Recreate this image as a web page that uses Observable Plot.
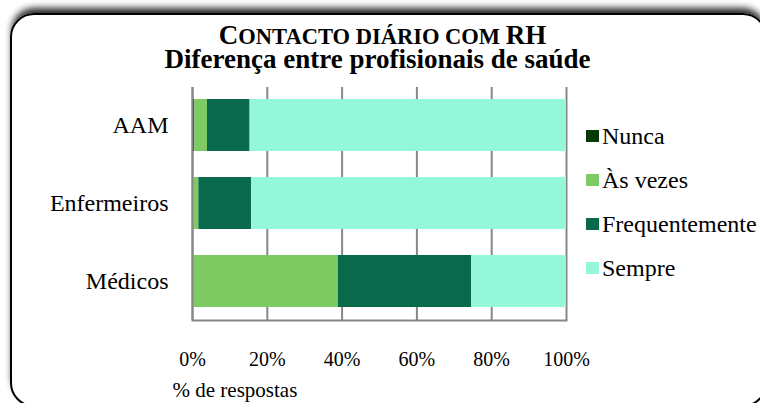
<!DOCTYPE html>
<html>
<head>
<meta charset="utf-8">
<script src="https://cdn.jsdelivr.net/npm/d3@7"></script>
<script src="https://cdn.jsdelivr.net/npm/@observablehq/plot@0.6"></script>
<style>
  html, body { margin: 0; padding: 0; background: #fff; overflow: hidden; }
  #wrap { position: relative; width: 760px; height: 403px; overflow: hidden; background: #fff; }
  #chart { position: absolute; left: 0; top: 0; }
  #border {
    position: absolute; left: 10px; top: 13px; width: 757px; height: 394px;
    border: 2px solid #000; border-radius: 24px; box-sizing: border-box;
    box-shadow: 0 -7px 7px -2px rgba(0,0,0,0.85);
    pointer-events: none;
  }
  #legend { position: absolute; left: 586px; top: 0; font-family: "Liberation Serif", serif; font-size: 24px; color: #000; }
  .item { position: absolute; left: 0; white-space: nowrap; display: flex; align-items: center; height: 30px; }
  .sw { width: 13px; height: 12px; margin-right: 3px; flex: none; }
</style>
</head>
<body>
<div id="wrap">
  <div id="border"></div>
  <div id="chart"></div>
  <div id="legend"></div>
</div>
<script>
const categories = ["AAM", "Enfermeiros", "Médicos"];
const seriesNames = ["Nunca", "Às vezes", "Frequentemente", "Sempre"];
const nunca = [0.6, 0, 0];
const asVezes = [3.4, 1.7, 39.0];
const frequentemente = [11.4, 14.1, 35.6];
const sempre = [84.6, 84.2, 25.4];
const seriesColors = ["#033a06", "#7dcb62", "#08694c", "#94f7da"];
const xTicks = [0, 20, 40, 60, 80, 100];
const titleLine1 = "Contacto diário com RH";
const titleLine2 = "Diferença entre profisionais de saúde";
const xLabel = "% de respostas";

const seriesValues = [nunca, asVezes, frequentemente, sempre];
const data = [];
categories.forEach((c, i) => {
  seriesNames.forEach((s, j) => {
    data.push({group: c, response: s, value: seriesValues[j][i]});
  });
});

const chart = Plot.plot({
  width: 760,
  height: 403,
  marginLeft: 192,
  marginRight: 194,
  marginTop: 87,
  marginBottom: 83,
  style: {fontFamily: "Liberation Serif, serif", color: "#000", background: "transparent", overflow: "visible"},
  x: {domain: [0, 100]},
  y: {domain: categories, paddingInner: 0.33, paddingOuter: 0.15},
  color: {domain: seriesNames, range: seriesColors},
  marks: [
    Plot.ruleX(xTicks, {stroke: "#878787", strokeWidth: 2}),
    Plot.barX(data, {x: "value", y: "group", fill: "response", order: seriesNames}),
    Plot.ruleX([0], {stroke: "#878787", strokeWidth: 2}),
    Plot.frame({anchor: "bottom", stroke: "#878787", strokeWidth: 2}),
    Plot.axisX({ticks: xTicks, tickFormat: d => d + "%", tickSize: 0, tickPadding: 31, fontSize: 20, label: null}),
    Plot.axisY({tickSize: 0, tickPadding: 24, fontSize: 24, label: null}),
    Plot.text([xLabel], {frameAnchor: "bottom-left", dx: -20, dy: 76, textAnchor: "start", fontSize: 21}),
    Plot.text([titleLine1], {frameAnchor: "top", dx: 3, dy: -44, lineAnchor: "bottom", fontSize: 27, fontWeight: "bold"}),
    Plot.text([titleLine2], {frameAnchor: "top", dx: -2, dy: -20, lineAnchor: "bottom", fontSize: 27, fontWeight: "bold"})
  ]
});
document.getElementById("chart").appendChild(chart);

// Small caps for the first title line: capitals at full size, other letters as smaller capitals
d3.select(chart).selectAll("text").filter(function() { return this.textContent === titleLine1; })
  .each(function() {
    const t = d3.select(this);
    t.text(null);
    let run = "", runBig = null;
    const flush = () => {
      if (run) t.append("tspan").attr("font-size", runBig ? 27 : 22.5).text(run);
      run = "";
    };
    for (const ch of titleLine1) {
      const isBig = ch === " " ? runBig : (ch !== ch.toLowerCase());
      if (runBig !== null && isBig !== runBig) flush();
      runBig = isBig;
      run += ch.toUpperCase();
    }
    flush();
  });

const color = chart.scale("color");
const legend = document.getElementById("legend");
const rowCenters = [136, 180, 224, 268];
color.domain.forEach((name, i) => {
  const item = document.createElement("div");
  item.className = "item";
  item.style.top = (rowCenters[i] - 15) + "px";
  const sw = document.createElement("div");
  sw.className = "sw";
  sw.style.background = color.range[i];
  const t = document.createElement("span");
  t.textContent = name;
  item.appendChild(sw);
  item.appendChild(t);
  legend.appendChild(item);
});
</script>
</body>
</html>
